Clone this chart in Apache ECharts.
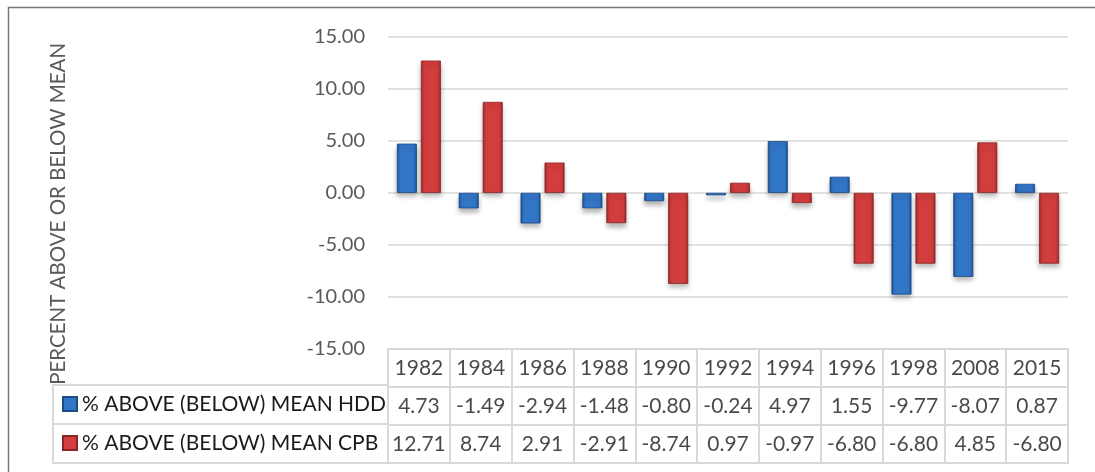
<!DOCTYPE html>
<html><head><meta charset="utf-8">
<script src="https://cdn.jsdelivr.net/npm/echarts@6/dist/echarts.min.js"></script>
<style>html,body{margin:0;padding:0;background:#fff}#c{width:1095px;height:472px}</style>
</head><body><div id="c"></div>
<script>
const years = ['1982','1984','1986','1988','1990','1992','1994','1996','1998','2008','2015'];
const hddName = '% ABOVE (BELOW) MEAN HDD';
const cpbName = '% ABOVE (BELOW) MEAN CPB';
const hdd = [4.73,-1.49,-2.94,-1.48,-0.80,-0.24,4.97,1.55,-9.77,-8.07,0.87];
const cpb = [12.71,8.74,2.91,-2.91,-8.74,0.97,-0.97,-6.80,-6.80,4.85,-6.80];
const yTicks = {min:-15, max:15, interval:5};
const axisTitle = 'PERCENT ABOVE OR BELOW MEAN';

const FONT = 'Lato, "Open Sans", sans-serif';
const fmt = v => v.toFixed(2);
const tableRows = [years, hdd.map(fmt), cpb.map(fmt)];
const tableData = [];
tableRows.forEach((row, r) => row.forEach((_, i) => tableData.push([i, r])));

function grad(dark, light) {
  return new echarts.graphic.LinearGradient(0, 0, 1, 0, [
    {offset: 0, color: dark}, {offset: 0.15, color: light}, {offset: 0.85, color: light}, {offset: 1, color: dark}
  ]);
}
const tableLine = {show: true, interval: 0, lineStyle: {color: '#d9d9d9', width: 2}};

const chart = echarts.init(document.getElementById('c'));
chart.setOption({
  animation: false,
  textStyle: {fontFamily: FONT},
  graphic: [{type: 'rect', shape: {x: 8.5, y: 7.5, width: 1300, height: 700}, style: {fill: 'none', stroke: '#777777', lineWidth: 1.5}, silent: true}],
  legend: {
    orient: 'vertical', left: 62, top: 393, padding: 0,
    itemWidth: 14, itemHeight: 14, itemGap: 17,
    icon: 'rect',
    data: [hddName, cpbName],
    textStyle: {fontFamily: FONT, fontSize: 21, color: '#1a1a1a', lineHeight: 22}
  },
  grid: [
    {left: 388, right: 27, top: 36.7, height: 312.3},
    {left: 388, right: 27, top: 349, height: 114, show: true, borderColor: '#d9d9d9', borderWidth: 2},
    {left: 53, width: 335, top: 385, height: 78, show: true, borderColor: '#d9d9d9', borderWidth: 2}
  ],
  xAxis: [
    {type: 'category', gridIndex: 0, data: years, axisLine: {show: false}, axisTick: {show: false}, axisLabel: {show: false}},
    {type: 'category', gridIndex: 1, data: years, axisLine: {show: false}, axisTick: {show: false}, axisLabel: {show: false}, splitLine: tableLine},
    {type: 'category', gridIndex: 2, data: [''], axisLine: {show: false}, axisTick: {show: false}, axisLabel: {show: false}}
  ],
  yAxis: [
    {type: 'value', gridIndex: 0, min: yTicks.min, max: yTicks.max, interval: yTicks.interval,
     axisLine: {show: false}, axisTick: {show: false},
     axisLabel: {formatter: v => v.toFixed(2), fontSize: 20, color: '#595959', margin: 23, fontFamily: FONT},
     splitLine: {lineStyle: {color: '#d9d9d9', width: 1.5}},
     name: axisTitle, nameLocation: 'middle', nameRotate: 90, nameGap: 319,
     nameTextStyle: {fontSize: 20.5, color: '#595959', fontFamily: FONT, padding: [0, 42, 0, 0]}},
    {type: 'category', gridIndex: 1, inverse: true, data: ['yr', 'hdd', 'cpb'], axisLine: {show: false}, axisTick: {show: false}, axisLabel: {show: false}, splitLine: tableLine},
    {type: 'category', gridIndex: 2, inverse: true, data: ['hdd', 'cpb'], axisLine: {show: false}, axisTick: {show: false}, axisLabel: {show: false}, splitLine: tableLine}
  ],
  series: [
    {name: hddName, type: 'bar', xAxisIndex: 0, yAxisIndex: 0, data: hdd, barWidth: 20, barGap: '20%',
     itemStyle: {color: grad('#1d4f8f', '#3276c7'), borderColor: '#1c4a84', borderWidth: 0.8,
       shadowColor: 'rgba(0,0,0,0.3)', shadowBlur: 5, shadowOffsetY: 4}},
    {name: cpbName, type: 'bar', xAxisIndex: 0, yAxisIndex: 0, data: cpb, barWidth: 20, barGap: '20%',
     itemStyle: {color: grad('#9a2727', '#d23d3d'), borderColor: '#8c2424', borderWidth: 0.8,
       shadowColor: 'rgba(0,0,0,0.3)', shadowBlur: 5, shadowOffsetY: 4}},
    {name: 'table', type: 'scatter', xAxisIndex: 1, yAxisIndex: 1, data: tableData, symbolSize: 1,
     itemStyle: {color: 'rgba(0,0,0,0)'}, silent: true,
     label: {show: true, position: 'inside', fontSize: 21, color: '#1a1a1a', fontFamily: FONT,
       formatter: p => tableRows[p.value[1]][p.value[0]]}}
  ]
});
</script></body></html>
